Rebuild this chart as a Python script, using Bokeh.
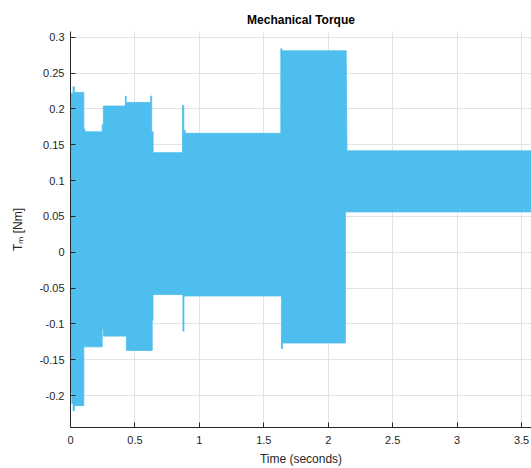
from bokeh.plotting import figure
from bokeh.models import Range1d, FixedTicker, PrintfTickFormatter
from bokeh.embed import file_html
from bokeh.resources import INLINE

# Envelope of the rapidly oscillating torque signal, as segments (start s, end s, value Nm)
upper_start = [0.000, 0.020, 0.030, 0.103, 0.112, 0.246, 0.255, 0.425, 0.432, 0.622, 0.630, 0.641, 0.869, 0.879, 0.890, 1.632, 1.640, 2.145]
upper_end   = [0.020, 0.030, 0.103, 0.112, 0.246, 0.255, 0.425, 0.432, 0.622, 0.630, 0.641, 0.869, 0.879, 0.890, 1.632, 1.640, 2.139, 3.600]
upper_val   = [0.222, 0.231, 0.223, 0.172, 0.168, 0.178, 0.204, 0.218, 0.209, 0.218, 0.168, 0.139, 0.205, 0.170, 0.166, 0.284, 0.281, 0.1415]

lower_start = [0.000, 0.010, 0.020, 0.030, 0.103, 0.246, 0.256, 0.434, 0.634, 0.640, 0.872, 0.880, 1.637, 1.645, 2.133]
lower_end   = [0.010, 0.020, 0.030, 0.103, 0.246, 0.256, 0.434, 0.634, 0.640, 0.872, 0.880, 1.637, 1.645, 2.133, 3.600]
lower_val   = [-0.196, -0.211, -0.221, -0.214, -0.132, -0.107, -0.117, -0.137, -0.095, -0.059, -0.110, -0.061, -0.1345, -0.1266, 0.0563]

x_ticks = [0, 0.5, 1, 1.5, 2, 2.5, 3, 3.5]
y_ticks = [-0.2, -0.15, -0.1, -0.05, 0, 0.05, 0.1, 0.15, 0.2, 0.25, 0.3]

# build polygon: upper envelope forward, lower envelope backward
xs, ys = [], []
for s, e, v in zip(upper_start, upper_end, upper_val):
    xs += [s, e]
    ys += [v, v]
lx, ly = [], []
for s, e, v in zip(lower_start, lower_end, lower_val):
    lx += [s, e]
    ly += [v, v]
xs += lx[::-1]
ys += ly[::-1]

FONT = "Liberation Sans"
AX = "#262626"

p = figure(width=531, height=468, output_backend="svg", toolbar_location=None,
           x_range=Range1d(0, 3.577), y_range=Range1d(-0.2445, 0.308),
           min_border_left=70, min_border_right=0, min_border_top=31, min_border_bottom=41,
           title="Mechanical Torque")
p.patch(xs, ys, fill_color="#4DBEEE", line_color="#4DBEEE", line_width=0.8)

p.title.text_font = FONT
p.title.text_font_size = "12px"
p.title.text_font_style = "bold"
p.title.text_color = "#000000"
p.title.align = "center"

p.outline_line_color = None
p.background_fill_color = "white"
p.border_fill_color = "white"

for ax in (p.xaxis[0], p.yaxis[0]):
    ax.major_label_text_font = FONT
    ax.major_label_text_font_size = "11px"
    ax.major_label_text_color = AX
    ax.axis_line_color = AX
    ax.major_tick_line_color = AX
    ax.major_tick_in = 5
    ax.major_tick_out = 0
    ax.minor_tick_line_color = None
    ax.axis_label_text_font = FONT
    ax.axis_label_text_font_size = "12px"
    ax.axis_label_text_font_style = "normal"
    ax.axis_label_text_color = AX
    ax.formatter = PrintfTickFormatter(format="%g")

p.xaxis[0].ticker = FixedTicker(ticks=x_ticks)
p.yaxis[0].ticker = FixedTicker(ticks=y_ticks)
p.xaxis[0].axis_label = "Time (seconds)"
p.yaxis[0].axis_label = "T\u2098 [Nm]"
p.xaxis[0].major_label_standoff = 8
p.yaxis[0].major_label_standoff = 6
p.yaxis[0].axis_label_standoff = 11

p.grid.grid_line_color = "#e3e3e3"
p.grid.grid_line_width = 1

open("out.html", "w").write(file_html(p, INLINE))
